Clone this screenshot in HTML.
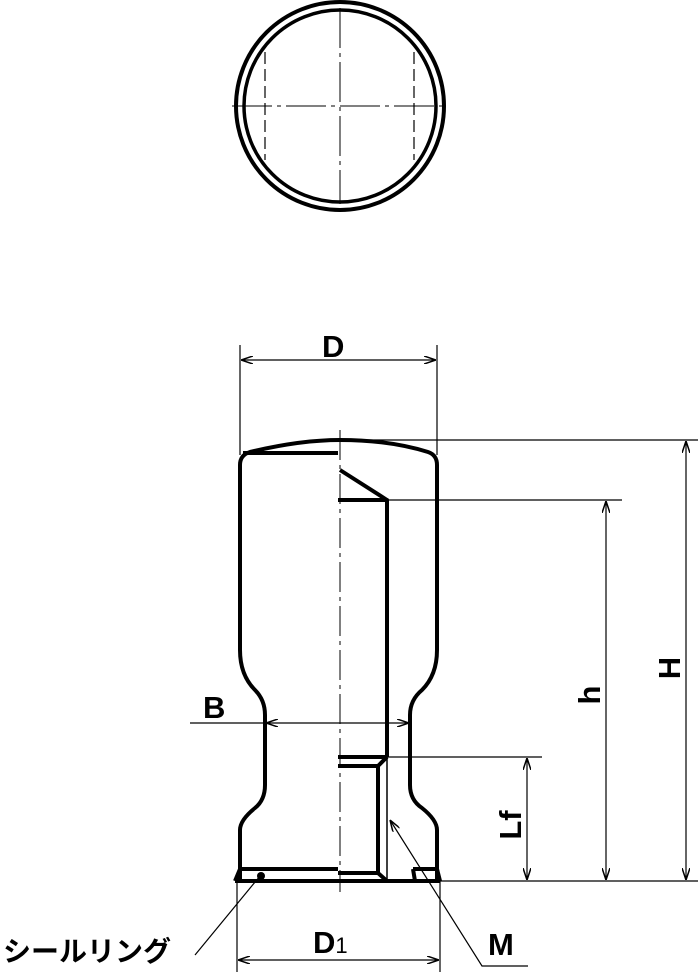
<!DOCTYPE html>
<html><head><meta charset="utf-8"><style>body{margin:0;background:#fff}svg{display:block}text{font-family:"Liberation Sans","Noto Sans CJK JP",sans-serif;fill:#000;font-weight:bold}</style></head>
<body>
<svg width="698" height="974" viewBox="0 0 698 974" xmlns="http://www.w3.org/2000/svg">
<defs>
<marker id="a" viewBox="0 0 12 8" refX="12" refY="4" markerWidth="12" markerHeight="8" orient="auto-start-reverse" markerUnits="userSpaceOnUse"><path d="M0,0 L12,4 L0,8" fill="none" stroke="#000" stroke-width="1.5"/></marker>
</defs>
<g fill="none" stroke="#000">
<circle cx="340" cy="106" r="104" stroke-width="4"/>
<circle cx="340" cy="106" r="96" stroke-width="3.5"/>
<line x1="265" y1="52" x2="265" y2="160" stroke-width="1.2" stroke-dasharray="12,5"/>
<line x1="414" y1="52" x2="414" y2="160" stroke-width="1.2" stroke-dasharray="12,5"/>
<line x1="232" y1="106" x2="448" y2="106" stroke-width="1" stroke-dasharray="40,5,4,5"/>
<line x1="340" y1="8" x2="340" y2="204" stroke-width="1" stroke-dasharray="40,5,4,5"/>
</g>
<g fill="none" stroke="#000" stroke-width="4" stroke-linejoin="round">
<path d="M240,881 L240,830 Q240,820 255,808 Q265,800 265,785 L265,715 Q265,700 255,690 Q240,675 240,650 L240,465 Q240,455 250,452 Q300,440 340,440 Q390,440 428,452 Q437,455 437,465 L437,650 Q437,675 422,690 Q410,700 410,715 L410,785 Q410,800 422,808 Q437,820 437,830 L437,881"/>
<path d="M243,453 L338,453 M340,470 L387,500 M338,500 L387,500 L387,757 M338,757 L387,757 M338,766 L378,766 L387,757 M378,766 L378,873 L387,881 M338,873 L378,873 M240,869 L338,869 M235,881 L440,881 M240,869 L235,881 M437,869 L440,881 M413,869 L437,869 M413,869 L415,881"/>
</g>
<line x1="387" y1="757" x2="387" y2="881" stroke="#000" stroke-width="1.5"/>
<line x1="340" y1="430" x2="340" y2="892" stroke="#000" stroke-width="1" stroke-dasharray="30,5,4,5"/>
<circle cx="261" cy="876" r="4" fill="#000"/>
<g fill="none" stroke="#000" stroke-width="1.2">
<line x1="240" y1="345" x2="240" y2="455"/><line x1="437" y1="345" x2="437" y2="455"/>
<line x1="241" y1="360" x2="436" y2="360" marker-start="url(#a)" marker-end="url(#a)"/>
<line x1="340" y1="440" x2="698" y2="440"/>
<line x1="387" y1="500" x2="622" y2="500"/>
<line x1="387" y1="757" x2="542" y2="757"/>
<line x1="440" y1="881" x2="698" y2="881"/>
<line x1="686" y1="441" x2="686" y2="880" marker-start="url(#a)" marker-end="url(#a)"/>
<line x1="606" y1="501" x2="606" y2="880" marker-start="url(#a)" marker-end="url(#a)"/>
<line x1="527" y1="758" x2="527" y2="880" marker-start="url(#a)" marker-end="url(#a)"/>
<line x1="190" y1="723" x2="264" y2="723"/>
<line x1="266" y1="723" x2="409" y2="723" marker-start="url(#a)" marker-end="url(#a)"/>
<line x1="237" y1="881" x2="237" y2="972"/><line x1="440" y1="881" x2="440" y2="972"/>
<line x1="238" y1="960" x2="439" y2="960" marker-start="url(#a)" marker-end="url(#a)"/>
<path d="M528,966 L482,966 L390,820" marker-end="url(#a)"/>
<line x1="260" y1="876" x2="195" y2="955"/>
</g>
<g font-size="31">
<text x="322" y="357">D</text>
<text x="203" y="718">B</text>
<text x="313" y="953">D<tspan font-size="22" font-weight="normal">1</tspan></text>
<text x="488" y="955">M</text>
<text x="3" y="961" font-size="28">シールリング</text>
<text transform="translate(680,668) rotate(-90)" text-anchor="middle">H</text>
<text transform="translate(600,695) rotate(-90)" text-anchor="middle">h</text>
<text transform="translate(521,825) rotate(-90)" text-anchor="middle">Lf</text>
</g>
</svg>
</body></html>
